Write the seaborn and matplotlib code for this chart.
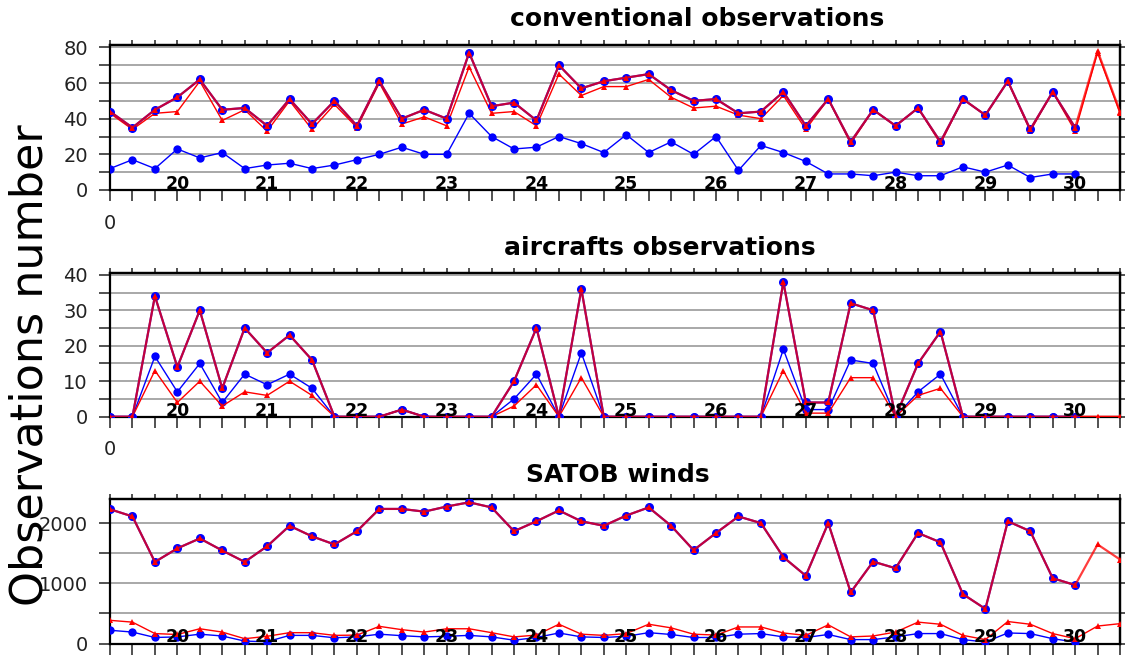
import numpy as np
import matplotlib
matplotlib.use("Agg")
import matplotlib.pyplot as plt
import seaborn as sns
from matplotlib.ticker import MultipleLocator

sns.set_theme(style="white")
plt.rcParams["font.family"] = ["DejaVu Sans"]

# Day-of-month labels (6-hourly samples, first sample on the 19th at 18 UTC)
days = [20, 21, 22, 23, 24, 25, 26, 27, 28, 29, 30]

# Conventional observations
conv_total_a = [44, 35, 45, 52, 62, 45, 46, 36, 51, 37, 50, 36, 61, 40, 45, 40,
                77, 47, 49, 39, 70, 57, 61, 63, 65, 56, 50, 51, 43, 44, 55, 36,
                51, 27, 45, 36, 46, 27, 51, 42, 61, 34, 55, 35]
conv_total_b = [44, 35, 45, 52, 62, 45, 46, 36, 51, 37, 50, 36, 61, 40, 45, 40,
                77, 47, 49, 39, 70, 57, 61, 63, 65, 56, 50, 51, 43, 44, 55, 36,
                51, 27, 45, 36, 46, 27, 51, 42, 61, 34, 55, 35, 78, 44]
conv_sub_a = [12, 17, 12, 23, 18, 21, 12, 14, 15, 12, 14, 17, 20, 24, 20, 20,
              43, 30, 23, 24, 30, 26, 21, 31, 21, 27, 20, 30, 11, 25, 21, 16,
              9, 9, 8, 10, 8, 8, 13, 10, 14, 7, 9, 9]
conv_sub_b = [43, 34, 43, 44, 61, 39, 45, 33, 50, 34, 48, 35, 60, 37, 41, 36,
              69, 43, 44, 36, 65, 53, 58, 58, 62, 52, 46, 47, 42, 40, 53, 34,
              51, 26, 45, 36, 46, 26, 51, 42, 61, 33, 55, 33, 77, 43]

# Aircraft observations
air_total_a = [0, 0, 34, 14, 30, 8, 25, 18, 23, 16, 0, 0, 0, 2, 0, 0,
               0, 0, 10, 25, 0, 36, 0, 0, 0, 0, 0, 0, 0, 0, 38, 4,
               4, 32, 30, 0, 15, 24, 0, 0, 0, 0, 0, 0]
air_total_b = [0, 0, 34, 14, 30, 8, 25, 18, 23, 16, 0, 0, 0, 2, 0, 0,
               0, 0, 10, 25, 0, 36, 0, 0, 0, 0, 0, 0, 0, 0, 38, 4,
               4, 32, 30, 0, 15, 24, 0, 0, 0, 0, 0, 0, 0, 0]
air_sub_a = [0, 0, 17, 7, 15, 4, 12, 9, 12, 8, 0, 0, 0, 2, 0, 0,
             0, 0, 5, 12, 0, 18, 0, 0, 0, 0, 0, 0, 0, 0, 19, 2,
             2, 16, 15, 0, 7, 12, 0, 0, 0, 0, 0, 0]
air_sub_b = [0, 0, 13, 4, 10, 3, 7, 6, 10, 6, 0, 0, 0, 2, 0, 0,
             0, 0, 3, 9, 0, 11, 0, 0, 0, 0, 0, 0, 0, 0, 13, 1,
             1, 11, 11, 0, 6, 8, 0, 0, 0, 0, 0, 0, 0, 0]

# SATOB winds
sat_total_a = [2230, 2110, 1355, 1580, 1745, 1545, 1355, 1615, 1955, 1780, 1645,
               1865, 2235, 2235, 2190, 2275, 2345, 2260, 1865, 2030, 2210, 2030,
               1955, 2125, 2260, 1955, 1550, 1835, 2110, 2000, 1435, 1125, 2000,
               850, 1360, 1250, 1835, 1680, 820, 575, 2030, 1865, 1085, 970]
sat_total_b = [2230, 2110, 1355, 1580, 1745, 1545, 1355, 1615, 1955, 1780, 1645,
               1865, 2235, 2235, 2190, 2275, 2345, 2260, 1865, 2030, 2210, 2030,
               1955, 2125, 2260, 1955, 1550, 1835, 2110, 2000, 1435, 1125, 2000,
               850, 1360, 1250, 1835, 1680, 820, 575, 2030, 1865, 1085, 970,
               1645, 1395]
sat_sub_a = [220, 190, 100, 110, 155, 125, 40, 30, 135, 135, 95, 110, 155, 130,
             110, 120, 135, 110, 55, 100, 175, 110, 100, 120, 180, 150, 100, 100,
             155, 165, 110, 100, 150, 65, 65, 110, 165, 165, 65, 25, 175, 165,
             80, 25]
sat_sub_b = [385, 355, 165, 150, 245, 190, 80, 120, 180, 180, 135, 140, 285, 230,
             190, 245, 245, 180, 110, 140, 320, 155, 135, 165, 320, 260, 155, 140,
             275, 275, 175, 135, 310, 110, 125, 190, 355, 320, 135, 65, 365, 320,
             165, 80, 290, 330]

N_STEPS = 46
BLUE = "#0000ff"
RED = "#ff0000"

fig = plt.figure(figsize=(11.26, 6.59), dpi=100)

panels = [
    dict(rect=[0.0977, 0.7117, 0.897, 0.2205], title="conventional observations",
         tpos=(0.619, 0.971), data=(conv_total_a, conv_total_b, conv_sub_a, conv_sub_b),
         ymax=81.5, major=20, minor=10, origin_label=True),
    dict(rect=[0.0977, 0.3677, 0.897, 0.2185], title="aircrafts observations",
         tpos=(0.586, 0.624), data=(air_total_a, air_total_b, air_sub_a, air_sub_b),
         ymax=40.6, major=10, minor=5, origin_label=True),
    dict(rect=[0.0977, 0.0235, 0.897, 0.2193], title="SATOB winds",
         tpos=(0.549, 0.279), data=(sat_total_a, sat_total_b, sat_sub_a, sat_sub_b),
         ymax=2400, major=1000, minor=500, origin_label=False),
]

for p in panels:
    ax = fig.add_axes(p["rect"])
    total_a, total_b, sub_a, sub_b = p["data"]

    # subsets (thin lines)
    sns.lineplot(x=list(range(len(sub_a))), y=sub_a, ax=ax, color=BLUE, lw=1.0,
                 marker="o", markersize=6, markeredgewidth=0, estimator=None, zorder=3)
    sns.lineplot(x=list(range(len(sub_b))), y=sub_b, ax=ax, color=RED, lw=1.0,
                 marker="^", markersize=4.5, markeredgewidth=0, estimator=None, zorder=3)
    # totals: blue underneath, translucent red on top gives the crimson overlap
    sns.lineplot(x=list(range(len(total_a))), y=total_a, ax=ax, color=BLUE, lw=1.5,
                 marker="o", markersize=6.5, markeredgewidth=0, estimator=None, zorder=4)
    sns.lineplot(x=list(range(len(total_b))), y=total_b, ax=ax, color=(1, 0, 0, 0.76),
                 lw=1.6, marker="^", markersize=4.5, markerfacecolor=RED,
                 markeredgecolor=RED, markeredgewidth=0, estimator=None, zorder=4)

    ax.set_xlim(0, N_STEPS - 1)
    ax.set_ylim(0, p["ymax"])
    ax.set_xlabel("")
    ax.set_ylabel("")

    # y axis: labelled majors, gridlines at every minor step
    ax.yaxis.set_major_locator(MultipleLocator(p["major"]))
    ax.yaxis.set_minor_locator(MultipleLocator(p["minor"]))
    ax.set_axisbelow(True)
    ax.grid(True, axis="y", which="both", color="#a8a8a8", lw=1.4)
    ax.grid(False, axis="x")
    ax.tick_params(axis="y", which="both", direction="out", length=8, width=1.2,
                   color="#333333", left=True, right=False)
    ax.tick_params(axis="y", which="major", labelsize=14, labelcolor="#222222", pad=8)

    # x axis: a tick every 6 h, a lone "0" label at the origin
    if p["origin_label"]:
        ax.set_xticks([0], labels=["0"])
    else:
        ax.set_xticks([0], labels=[""])
    ax.set_xticks(range(N_STEPS), minor=True)
    ax.tick_params(axis="x", which="both", direction="out", length=8, width=1.2,
                   color="#333333", bottom=True, top=False)
    ax.tick_params(axis="x", which="major", labelsize=14, labelcolor="#222222", pad=9)

    top = ax.secondary_xaxis("top")
    top.set_xticks(range(N_STEPS), labels=[""] * N_STEPS)
    top.tick_params(direction="out", length=3.5, width=1.2, color="#333333")
    right = ax.secondary_yaxis("right")
    right_ticks = np.arange(0, p["ymax"], p["minor"])
    right.set_yticks(right_ticks, labels=[""] * len(right_ticks))
    right.tick_params(direction="out", length=3.5, width=1.2, color="#333333")

    for sp in list(ax.spines.values()) + list(top.spines.values()) + list(right.spines.values()):
        sp.set_color("black")
        sp.set_linewidth(1.6)

    # day labels at 12 UTC of each day
    for i, d in enumerate(days):
        ax.text(3 + 4 * i, 0.008, str(d), transform=ax.get_xaxis_transform(),
                ha="center", va="baseline", fontsize=12.5, fontweight="bold",
                color="black", zorder=6)

    fig.text(p["tpos"][0], p["tpos"][1], p["title"], ha="center", va="center",
             fontsize=18, fontweight="bold", color="black")

fig.text(0.027, 0.446, "Observations number", rotation=90, ha="center",
         va="center", fontsize=32, color="black")

fig.savefig("out.png", dpi=100)
